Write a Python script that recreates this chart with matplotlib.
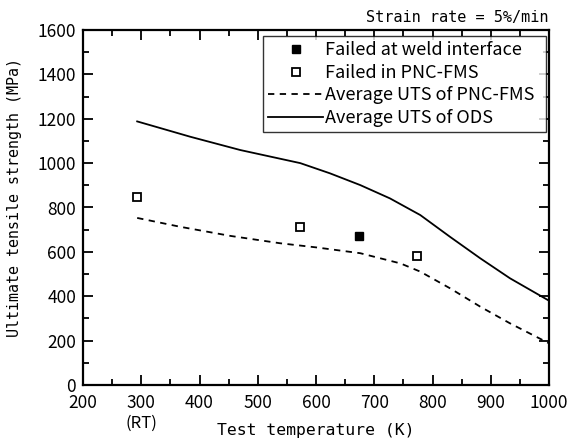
import matplotlib
matplotlib.use("Agg")
import matplotlib.pyplot as plt
from matplotlib.ticker import MultipleLocator

plt.rcParams["font.family"] = ["Noto Sans CJK JP", "DejaVu Sans"]
mono = "DejaVu Sans Mono"

# values
ods_temp = [293, 330, 384, 470, 573, 624, 676, 727, 779, 830, 882, 933, 1000]
ods_uts = [1188, 1160, 1119, 1059, 1000, 954, 901, 841, 766, 668, 571, 481, 380]

fms_temp = [293, 367, 453, 538, 601, 676, 745, 779, 830, 882, 933, 1000]
fms_uts = [753, 713, 672, 639, 620, 594, 548, 511, 436, 353, 278, 188]

weld_temp = [673]
weld_uts = [672]

pnc_temp = [293, 573, 773]
pnc_uts = [849, 714, 581]

fig = plt.figure(figsize=(5.68, 4.44), dpi=100)
ax = fig.add_axes([83 / 568, 1 - 385 / 444, 466 / 568, 355 / 444])

ax.plot(weld_temp, weld_uts, ls="none", marker="s", ms=6, mfc="black",
        mec="black", label="Failed at weld interface")
ax.plot(pnc_temp, pnc_uts, ls="none", marker="s", ms=6, mfc="white",
        mec="black", mew=1.3, label="Failed in PNC-FMS")
ax.plot(fms_temp, fms_uts, color="black", ls=(0, (3.5, 3)), lw=1.3,
        label="Average UTS of PNC-FMS")
ax.plot(ods_temp, ods_uts, color="black", lw=1.3, label="Average UTS of ODS")

ax.set_xlim(200, 1000)
ax.set_ylim(0, 1600)
ax.xaxis.set_major_locator(MultipleLocator(100))
ax.xaxis.set_minor_locator(MultipleLocator(50))
ax.yaxis.set_major_locator(MultipleLocator(200))
ax.yaxis.set_minor_locator(MultipleLocator(100))
ax.tick_params(which="both", direction="in", top=True, right=True, width=1.3,
               labelsize=12.5)
ax.tick_params(which="major", length=7)
ax.tick_params(which="minor", length=4)
ax.tick_params(axis="x", pad=6.5)
ax.tick_params(axis="y", pad=5)
for sp in ax.spines.values():
    sp.set_linewidth(1.6)

ax.set_xlabel("Test temperature (K)", family=mono, fontsize=11.8, labelpad=8)
ax.set_ylabel("Ultimate tensile strength (MPa)", family=mono, fontsize=10.8)
ax.yaxis.set_label_coords(-0.131, 0.527)
ax.text(300, -0.085, "(RT)", transform=ax.get_xaxis_transform(),
        ha="center", va="top", fontsize=12)
ax.text(1.0, 1.015, "Strain rate = 5%/min", transform=ax.transAxes,
        ha="right", va="bottom", family=mono, fontsize=11)

leg = ax.legend(loc="upper left", bbox_to_anchor=(0.386, 0.713, 0.608, 0.270),
                mode="expand", borderaxespad=0,
                prop={"family": "Noto Sans CJK JP", "size": 13},
                frameon=True, fancybox=False, edgecolor="black",
                handlelength=3.05, handletextpad=0.1,
                labelspacing=0.25, borderpad=0.3)
leg.get_frame().set_linewidth(1.0)

fig.savefig("out.png", dpi=100)
